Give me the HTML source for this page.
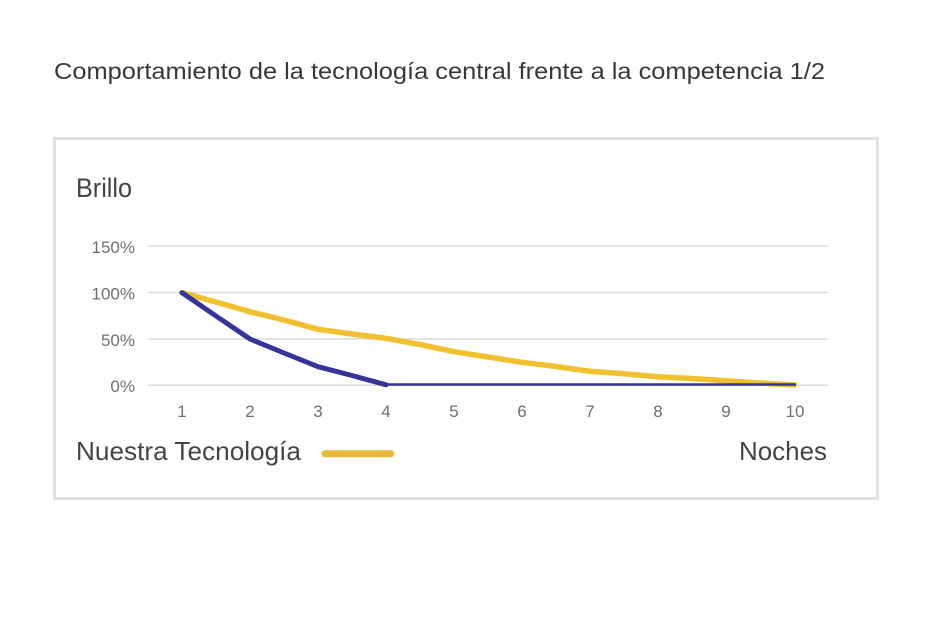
<!DOCTYPE html>
<html>
<head>
<meta charset="utf-8">
<style>
  html, body { margin: 0; padding: 0; background: #ffffff; }
  body { width: 935px; height: 638px; overflow: hidden; }
  svg { display: block; }
  text { font-family: "Liberation Sans", "DejaVu Sans", sans-serif; }
</style>
</head>
<body>
<svg width="935" height="638" viewBox="0 0 935 638" xmlns="http://www.w3.org/2000/svg">
  <rect x="0" y="0" width="935" height="638" fill="#ffffff"/>
  <!-- Title -->
  <text x="54" y="79" font-size="23" fill="#383838" textLength="771" lengthAdjust="spacingAndGlyphs">Comportamiento de la tecnología central frente a la competencia 1/2</text>

  <!-- Box -->
  <rect x="54.5" y="138.5" width="823" height="360" fill="#ffffff" stroke="#e0e0e0" stroke-width="3"/>

  <!-- Y axis title -->
  <text x="76" y="197" font-size="27" fill="#444444" textLength="56" lengthAdjust="spacingAndGlyphs">Brillo</text>

  <!-- Gridlines -->
  <g stroke="#d9d9d9" stroke-width="1.5">
    <line x1="148" y1="246" x2="828" y2="246"/>
    <line x1="148" y1="292.5" x2="828" y2="292.5"/>
    <line x1="148" y1="339" x2="828" y2="339"/>
    <line x1="148" y1="385.3" x2="828" y2="385.3"/>
  </g>

  <!-- Y tick labels -->
  <g font-size="17" fill="#6f6f6f" text-anchor="end">
    <text x="135" y="253">150%</text>
    <text x="135" y="299.5">100%</text>
    <text x="135" y="346">50%</text>
    <text x="135" y="392">0%</text>
  </g>

  <!-- X tick labels -->
  <g font-size="17" fill="#6f6f6f" text-anchor="middle">
    <text x="182" y="417">1</text>
    <text x="250" y="417">2</text>
    <text x="318" y="417">3</text>
    <text x="386" y="417">4</text>
    <text x="454" y="417">5</text>
    <text x="522" y="417">6</text>
    <text x="590" y="417">7</text>
    <text x="658" y="417">8</text>
    <text x="726" y="417">9</text>
    <text x="795" y="417">10</text>
  </g>

  <!-- Yellow series -->
  <polyline fill="none" stroke="#f0c02e" stroke-width="5.5" stroke-linejoin="round" stroke-linecap="round"
    points="182,292.7 216,302 250,311.7 284,320 318,329.3 352,334 386,338.3 420,344.5 454,351.7 488,357 522,362.3 556,366.5 590,371.3 624,373.8 658,376.7 692,378.5 726,380.7 760,383 794,385"/>

  <!-- Blue series thin part -->
  <polyline fill="none" stroke="#34349a" stroke-width="2.5"
    points="386,384.5 796,384.5"/>

  <!-- Blue series thick part -->
  <polyline fill="none" stroke="#34349a" stroke-width="5" stroke-linejoin="round" stroke-linecap="round"
    points="182,292.7 216,316 250,339 284,353 318,366.7 352,375.5 386,384.8"/>

  <!-- Legend -->
  <text x="76" y="460" font-size="26" fill="#444444" textLength="225" lengthAdjust="spacingAndGlyphs">Nuestra Tecnología</text>
  <line x1="325" y1="453.7" x2="391" y2="453.7" stroke="#ebb93a" stroke-width="7" stroke-linecap="round"/>

  <!-- X axis title -->
  <text x="739" y="460" font-size="26" fill="#444444" textLength="88" lengthAdjust="spacingAndGlyphs">Noches</text>
</svg>
</body>
</html>
